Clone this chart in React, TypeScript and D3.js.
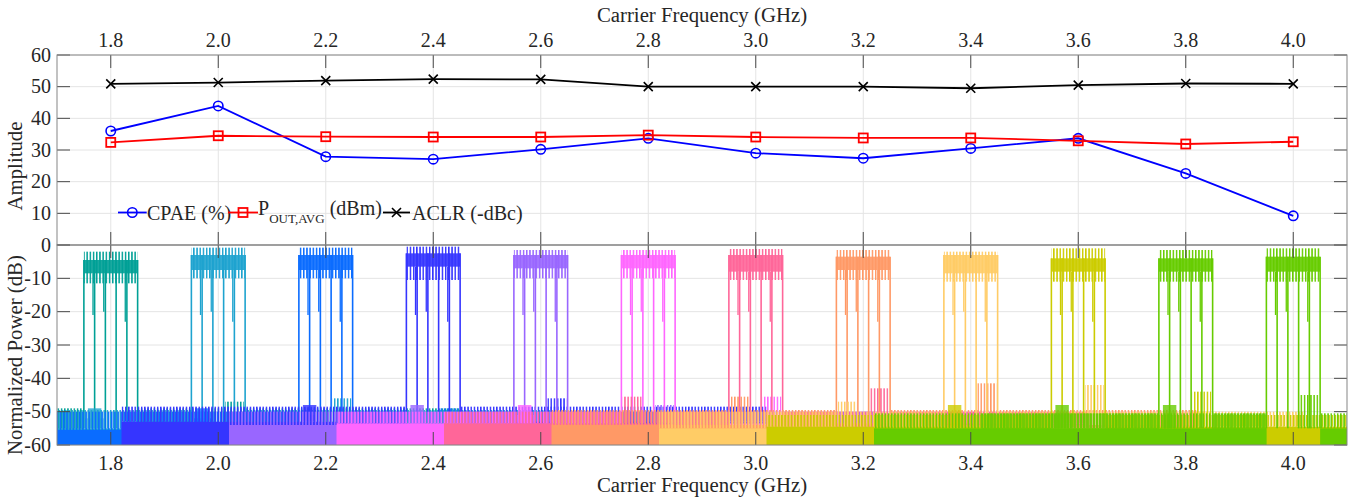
import React from 'react';
import * as d3 from 'd3';

// ---------- data ----------
const carriers = [1.8, 2.0, 2.2, 2.4, 2.6, 2.8, 3.0, 3.2, 3.4, 3.6, 3.8, 4.0];
const xTickLabels = ['1.8', '2.0', '2.2', '2.4', '2.6', '2.8', '3.0', '3.2', '3.4', '3.6', '3.8', '4.0'];
const cpae = [36.0, 43.9, 27.9, 27.1, 30.2, 33.7, 29.0, 27.4, 30.5, 33.7, 22.6, 9.2];
const pout = [32.4, 34.5, 34.2, 34.1, 34.1, 34.7, 34.1, 33.8, 33.8, 32.9, 31.9, 32.6];
const aclr = [50.9, 51.3, 51.9, 52.4, 52.3, 50.0, 50.0, 50.0, 49.5, 50.5, 51.0, 50.9];
const ampTicks = [0, 10, 20, 30, 40, 50, 60];
const powTicks = [-60, -50, -40, -30, -20, -10, 0];

const carrierColors = ['#00a096', '#1ea3cf', '#0a6cff', '#3535ff', '#9966ff', '#ff66ff', '#ff6699', '#ff9966', '#ffcc66', '#cccc00', '#66cc00', '#66cc00'];

// in-band spectrum levels (dB)
const bandHalfWidth = 0.05;
const bandDenseTop = [-4.5, -3, -3, -2.5, -3, -3, -3, -3.5, -3, -4, -4, -3.5];
const bandDenseBottom = [-8.5, -7.5, -7.5, -6.5, -7, -7, -8, -7.5, -8.5, -8, -8, -8];
const bandPeakTop = [-2, -0.8, -0.8, -0.5, -1.5, -1.5, -1.2, -1.5, -2, -1, -1.5, -1];
const bandPeakBottom = [-11.5, -10, -10, -10.5, -10, -10, -10.5, -10.5, -11, -11, -11, -11];
const notchOffsets = [-0.05, -0.03, -0.01, 0.01, 0.03, 0.05];
const partialDipOffsets = [-0.033, -0.013, 0.027];
const partialDipDepth = [-21, -20, -23];

// noise floor of each measured spectrum (GHz span, dB levels)
const floorStart = [1.70, 1.70, 1.70, 1.82, 2.02, 2.22, 2.42, 2.62, 2.82, 3.02, 3.22, 3.42];
const floorEnd = [2.45, 2.62, 2.82, 3.02, 3.22, 3.42, 3.62, 3.82, 4.02, 4.10, 3.95, 4.10];
const floorDense = [-55, -55, -55.5, -53, -54, -53.5, -53.5, -54, -55, -54.5, -55, -55];
const floorPeak = [-49, -49.5, -50, -48.5, -50, -50, -50, -49.5, -50, -51, -50.5, -50.5];
const spurOffset = 0.23;
const spurWidth = 0.035;
const spurRight = [-47, -46, -49, -46, -48, -45.5, -43, -41.5, -42, -44, -45, -46];
const spurLeft = [-52, -52, -52, -51, -51, -51, -45.5, -45.5, -47, -51, -51, -51];

// ---------- layout ----------
const W = 1356;
const H = 500;
const L = 57;
const R = 1347;
const TOP0 = 55;
const MID = 245;
const BOT1 = 445;
const TICK = 13;
const FONT = "'Liberation Serif', 'Times New Roman', serif";
const TXT = '#262626';

export default function App() {
  const x = d3.scaleLinear().domain([1.7, 4.1]).range([L, R]);
  const yA = d3.scaleLinear().domain([0, 60]).range([MID, TOP0]);
  const yP = d3.scaleLinear().domain([-60, 0]).range([BOT1, MID]);

  const line = (vals: number[]) =>
    d3.line<number>().x((_, i) => x(carriers[i])).y((v) => yA(v))(vals) || '';

  const rectP = (x0: number, x1: number, v0: number, v1: number) => {
    const a = Math.max(x0, 1.7);
    const b = Math.min(x1, 4.1);
    if (b <= a) return null;
    return { x: x(a), w: x(b) - x(a), y: yP(Math.max(v0, v1)), h: Math.abs(yP(v0) - yP(v1)) };
  };

  const spectra = carriers.map((fc, i) => {
    const col = carrierColors[i];
    const hatch = `url(#hatch${i})`;
    const els: React.ReactNode[] = [];
    const segs: [number, number][] = [
      [floorStart[i], fc - bandHalfWidth],
      [fc + bandHalfWidth, floorEnd[i]],
    ];
    segs.forEach(([a, b], k) => {
      const solid = rectP(a, b, -60, floorDense[i]);
      const light = rectP(a, b, floorDense[i], floorPeak[i]);
      if (light) els.push(<rect key={`fl${k}`} x={light.x} y={light.y} width={light.w} height={light.h} fill={hatch} />);
      if (solid) els.push(<rect key={`fs${k}`} x={solid.x} y={solid.y} width={solid.w} height={solid.h} fill={col} />);
    });
    // spurs
    [[fc + spurOffset - spurWidth / 2, spurRight[i]], [fc - spurOffset - spurWidth / 2, spurLeft[i]]].forEach(([s, lev], k) => {
      const lt = rectP(s, s + spurWidth, floorDense[i], lev);
      const sd = rectP(s + 0.005, s + spurWidth - 0.005, floorDense[i], lev + 3);
      if (lt) els.push(<rect key={`sl${k}`} x={lt.x} y={lt.y} width={lt.w} height={lt.h} fill={hatch} />);
      if (sd && lev + 3 < floorDense[i] + 8) els.push(<rect key={`ss${k}`} x={sd.x} y={sd.y} width={sd.w} height={sd.h} fill={col} opacity={0.8} />);
    });
    // in-band
    const bp = rectP(fc - bandHalfWidth, fc + bandHalfWidth, bandPeakBottom[i], bandPeakTop[i]);
    const bd = rectP(fc - bandHalfWidth, fc + bandHalfWidth, bandDenseBottom[i], bandDenseTop[i]);
    if (bp) els.push(<rect key="bp" x={bp.x} y={bp.y} width={bp.w} height={bp.h} fill={hatch} />);
    if (bd) els.push(<rect key="bd" x={bd.x} y={bd.y} width={bd.w} height={bd.h} fill={col} opacity={0.9} />);
    notchOffsets.forEach((o, k) => {
      const xx = x(fc + o);
      els.push(<line key={`n${k}`} x1={xx} x2={xx} y1={yP(bandDenseTop[i])} y2={yP(floorDense[i])} stroke={col} strokeWidth={1.6} />);
    });
    partialDipOffsets.forEach((o, k) => {
      const xx = x(fc + o);
      els.push(<line key={`p${k}`} x1={xx} x2={xx} y1={yP(bandDenseBottom[i])} y2={yP(partialDipDepth[k])} stroke={col} strokeWidth={1.3} />);
    });
    return <g key={`sp${i}`}>{els}</g>;
  });

  const gridColor = '#e4e4e4';
  const axisColor = '#858585';
  const tickColor = '#4a4a4a';

  const panelFrame = (y0: number, y1: number, yTicksPx: number[], key: string) => (
    <g key={key}>
      {carriers.map((c, i) => (
        <g key={`xt${i}`}>
          <line x1={x(c)} x2={x(c)} y1={y0} y2={y0 + TICK} stroke={tickColor} strokeWidth={1} />
          <line x1={x(c)} x2={x(c)} y1={y1} y2={y1 - TICK} stroke={tickColor} strokeWidth={1} />
        </g>
      ))}
      {yTicksPx.map((yy, i) => (
        <g key={`yt${i}`}>
          <line x1={L} x2={L + TICK} y1={yy} y2={yy} stroke={tickColor} strokeWidth={1} />
          <line x1={R} x2={R - TICK} y1={yy} y2={yy} stroke={tickColor} strokeWidth={1} />
        </g>
      ))}
      <rect x={L} y={y0} width={R - L} height={y1 - y0} fill="none" stroke={axisColor} strokeWidth={1} />
    </g>
  );

  const grid = (y0: number, y1: number, yTicksPx: number[], key: string) => (
    <g key={key}>
      {carriers.map((c, i) => (
        <line key={`gx${i}`} x1={x(c)} x2={x(c)} y1={y0} y2={y1} stroke={gridColor} strokeWidth={1} />
      ))}
      {yTicksPx.map((yy, i) => (
        <line key={`gy${i}`} x1={L} x2={R} y1={yy} y2={yy} stroke={gridColor} strokeWidth={1} />
      ))}
    </g>
  );

  const ampPx = ampTicks.map((t) => yA(t));
  const powPx = powTicks.map((t) => yP(t));

  const circle = (cx: number, cy: number, k: string) => (
    <circle key={k} cx={cx} cy={cy} r={4.7} fill="none" stroke="#0000ff" strokeWidth={1.6} />
  );
  const square = (cx: number, cy: number, k: string) => (
    <rect key={k} x={cx - 4.5} y={cy - 4.5} width={9} height={9} fill="none" stroke="#ff0000" strokeWidth={1.8} />
  );
  const cross = (cx: number, cy: number, k: string) => (
    <path key={k} d={`M${cx - 4.5},${cy - 4.5}L${cx + 4.5},${cy + 4.5}M${cx - 4.5},${cy + 4.5}L${cx + 4.5},${cy - 4.5}`} stroke="#000" strokeWidth={1.6} fill="none" />
  );

  const legY = 212.5;

  return (
    <svg width={W} height={H} style={{ position: 'absolute', left: 0, top: 0, background: '#fff' }} fontFamily={FONT}>
      <rect x={0} y={0} width={W} height={H} fill="#fff" />
      <defs>
        <clipPath id="clipBot">
          <rect x={L} y={MID} width={R - L} height={BOT1 - MID} />
        </clipPath>
        {carrierColors.map((c, i) => (
          <pattern key={`pat${i}`} id={`hatch${i}`} patternUnits="userSpaceOnUse" width={3.2} height={10} patternTransform={`translate(${(i * 1.1) % 3.2},0)`}>
            <rect x={0} y={0} width={1.5} height={10} fill={c} />
          </pattern>
        ))}
      </defs>

      {grid(TOP0, MID, ampPx, 'gTop')}
      {grid(MID, BOT1, powPx, 'gBot')}

      {/* bottom panel spectra */}
      <g clipPath="url(#clipBot)">{spectra}</g>

      {/* top panel lines */}
      <g>
        <path d={line(cpae)} fill="none" stroke="#0000ff" strokeWidth={1.8} />
        {cpae.map((v, i) => circle(x(carriers[i]), yA(v), `c${i}`))}
        <path d={line(pout)} fill="none" stroke="#ff0000" strokeWidth={1.8} />
        {pout.map((v, i) => square(x(carriers[i]), yA(v), `s${i}`))}
        <path d={line(aclr)} fill="none" stroke="#000000" strokeWidth={1.8} />
        {aclr.map((v, i) => cross(x(carriers[i]), yA(v), `x${i}`))}
      </g>

      {panelFrame(TOP0, MID, ampPx, 'fTop')}
      {panelFrame(MID, BOT1, powPx, 'fBot')}

      {/* tick labels */}
      <g fontSize={20} fill={TXT}>
        {carriers.map((c, i) => (
          <text key={`tt${i}`} x={x(c)} y={46.5} textAnchor="middle">{xTickLabels[i]}</text>
        ))}
        {carriers.map((c, i) => (
          <text key={`bt${i}`} x={x(c)} y={470} textAnchor="middle">{xTickLabels[i]}</text>
        ))}
        {ampTicks.filter((t) => t !== 0).map((t) => (
          <text key={`ya${t}`} x={51} y={yA(t) + 6.8} textAnchor="end">{String(t)}</text>
        ))}
        {powTicks.map((t) => (
          <text key={`yp${t}`} x={51} y={yP(t) + 6.8} textAnchor="end">{t < 0 ? `-${Math.abs(t)}` : String(t)}</text>
        ))}
      </g>

      {/* axis titles */}
      <g fontSize={20.8} fill={TXT}>
        <text x={(L + R) / 2} y={21.7} textAnchor="middle">Carrier Frequency (GHz)</text>
        <text x={(L + R) / 2} y={492} textAnchor="middle">Carrier Frequency (GHz)</text>
        <text transform={`translate(21.5,166) rotate(-90)`} textAnchor="middle">Amplitude</text>
        <text transform={`translate(22,355) rotate(-90)`} textAnchor="middle">Normalized Power (dB)</text>
      </g>

      {/* legend */}
      <g fill={TXT}>
        <line x1={118} x2={146.7} y1={legY} y2={legY} stroke="#0000ff" strokeWidth={1.8} />
        {circle(132.3, legY, 'lc')}
        <text x={147} y={220} fontSize={20}>CPAE (%)</text>
        <line x1={228} x2={258} y1={legY} y2={legY} stroke="#ff0000" strokeWidth={1.8} />
        {square(243, legY, 'ls')}
        <text x={258} y={215} fontSize={20}>
          P<tspan fontSize={13} dy={8}>OUT,AVG</tspan>
          <tspan fontSize={20} dy={-8}> (dBm)</tspan>
        </text>
        <line x1={383} x2={410} y1={legY} y2={legY} stroke="#000" strokeWidth={1.8} />
        {cross(396.5, legY, 'lx')}
        <text x={412} y={220} fontSize={20}>ACLR (-dBc)</text>
      </g>
    </svg>
  );
}
